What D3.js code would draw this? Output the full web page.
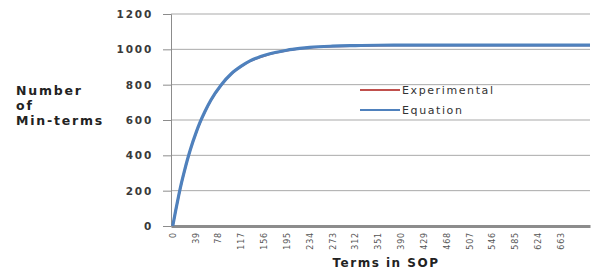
<!DOCTYPE html>
<html>
<head>
  <script src="https://d3js.org/d3.v7.min.js"></script>
  <style>
    body { margin: 0; background: #fff; }
    text { font-family: "DejaVu Sans", sans-serif; }
  </style>
</head>
<body>
  <svg id="chart" width="595" height="272"></svg>
  <script>
    var terms = [0, 5, 10, 15, 20, 25, 30, 40, 46, 55, 65, 83, 100, 117, 132, 145, 157, 175, 195, 217, 234, 273, 312, 351, 390, 429, 468, 507, 546, 585, 624, 663, 713]
    var experimental = [0, 86, 168, 243, 310, 373, 430, 528, 580, 646, 710, 798, 860, 903, 933, 951, 964, 980, 993, 1004, 1010, 1017, 1020, 1022, 1023, 1023, 1023, 1023, 1023, 1023, 1023, 1023, 1023]
    var equation = [0, 88, 170, 245, 312, 375, 432, 530, 582, 648, 712, 800, 862, 905, 935, 953, 966, 982, 995, 1005, 1011, 1018, 1021, 1023, 1024, 1024, 1024, 1024, 1024, 1024, 1024, 1024, 1024]
    var xTicks = [0, 39, 78, 117, 156, 195, 234, 273, 312, 351, 390, 429, 468, 507, 546, 585, 624, 663]
    var yTicks = [0, 200, 400, 600, 800, 1000, 1200]

    var svg = d3.select("#chart")
    var x = d3.scaleLinear().domain([-3, 713]).range([171, 590])
    var y = d3.scaleLinear().domain([0, 1200]).range([226, 14])

    // grid
    svg.append("g").selectAll("line").data(yTicks.slice(1)).enter().append("line")
      .attr("x1", 171).attr("x2", 590)
      .attr("y1", d => y(d)).attr("y2", d => y(d))
      .attr("stroke", "#a9a9a9").attr("stroke-width", 1)

    // y axis
    var yAxis = d3.axisLeft(y).tickValues(yTicks).tickSize(8).tickPadding(10).tickFormat(d3.format("d"))
    var gy = svg.append("g").attr("transform", "translate(171,0)").call(yAxis)
    gy.select(".domain").attr("stroke", "#8c8c8c")
    gy.selectAll(".tick line").attr("stroke", "#8c8c8c")
    gy.selectAll("text").attr("font-size", 10.5).attr("font-weight", "bold").attr("fill", "#3a3a3a")
      .attr("letter-spacing", 1.8)

    // x axis
    var xAxis = d3.axisBottom(x).tickValues(xTicks).tickSize(0)
    var gx = svg.append("g").attr("transform", "translate(0,226)").call(xAxis)
    gx.select(".domain").attr("stroke", "#8c8c8c").attr("stroke-width", 3)
    gx.selectAll(".tick text").attr("font-size", 8).attr("fill", "#555").attr("letter-spacing", 0.8)
      .attr("text-anchor", "end").attr("x", 0).attr("y", 0).attr("dy", "0.32em")
      .attr("transform", "translate(0,6) rotate(-90)")

    var line = d3.line().x((d, i) => x(terms[i])).y(d => y(d)).curve(d3.curveMonotoneX)
    svg.append("path").datum(experimental).attr("d", line)
      .attr("fill", "none").attr("stroke", "#c0504d").attr("stroke-width", 2)
    svg.append("path").datum(equation).attr("d", line)
      .attr("fill", "none").attr("stroke", "#4f81bd").attr("stroke-width", 3.2)

    // legend
    var legend = [{ name: "Experimental", color: "#c0504d", yy: 90 }, { name: "Equation", color: "#4f81bd", yy: 110 }]
    var lg = svg.append("g")
    legend.forEach(l => {
      lg.append("line").attr("x1", 360).attr("x2", 400).attr("y1", l.yy).attr("y2", l.yy)
        .attr("stroke", l.color).attr("stroke-width", 2)
      lg.append("text").attr("x", 402).attr("y", l.yy + 4).attr("font-size", 11)
        .attr("fill", "#333").attr("letter-spacing", 1.6).text(l.name)
    })

    // titles
    var yt = svg.append("text").attr("font-size", 12.5).attr("font-weight", "bold").attr("fill", "#222")
      .attr("letter-spacing", 1.8)
    yt.append("tspan").attr("x", 16).attr("y", 95).text("Number")
    yt.append("tspan").attr("x", 16).attr("y", 110).text("of")
    yt.append("tspan").attr("x", 16).attr("y", 125).text("Min-terms")

    svg.append("text").attr("x", 386).attr("y", 267).attr("text-anchor", "middle")
      .attr("font-size", 12).attr("font-weight", "bold").attr("fill", "#222").attr("letter-spacing", 1.5)
      .text("Terms in SOP")
  </script>
</body>
</html>
